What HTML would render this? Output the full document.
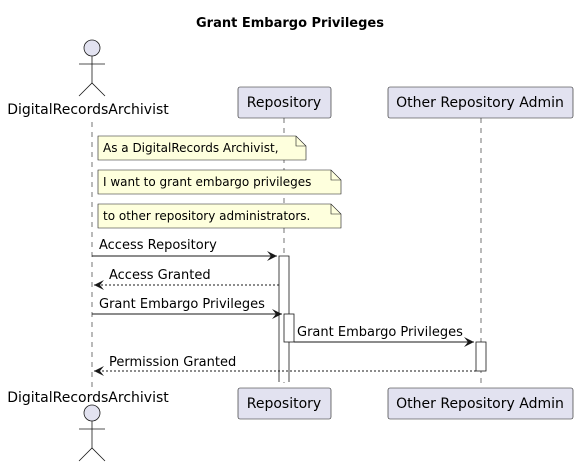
<!DOCTYPE html>
<html><head><meta charset="utf-8"><style>body{margin:0;background:#fff}svg{display:block}text{font-family:"DejaVu Sans","Liberation Sans",sans-serif}</style></head>
<body>
<svg width="580" height="469" viewBox="0 0 580 469" xmlns="http://www.w3.org/2000/svg">
<defs><marker id="a" markerWidth="12" markerHeight="10" refX="10" refY="5" orient="auto" markerUnits="userSpaceOnUse"><path d="M0,0 L10,5 L0,10 L4,5 Z" fill="#181818"/></marker></defs>
<text x="290" y="27" font-size="13" font-weight="bold" text-anchor="middle">Grant Embargo Privileges</text>
<g stroke="#181818" stroke-width="0.6" stroke-dasharray="5,5">
<line x1="92" y1="122" x2="92" y2="388"/><line x1="284" y1="118" x2="284" y2="388"/><line x1="481" y1="118" x2="481" y2="388"/></g>
<g stroke="#181818" stroke-width="0.8" fill="none"><circle cx="92" cy="48" r="8" fill="#E2E2F0"/><line x1="92" y1="56" x2="92" y2="83"/><line x1="79" y1="64" x2="105" y2="64"/><path d="M79,96 L92,83 L105,96"/></g>
<text x="88" y="114" font-size="14" text-anchor="middle">DigitalRecordsArchivist</text>
<g stroke="#181818" stroke-width="0.8" fill="none"><circle cx="92" cy="413" r="8" fill="#E2E2F0"/><line x1="92" y1="421" x2="92" y2="448"/><line x1="79" y1="429" x2="105" y2="429"/><path d="M79,461 L92,448 L105,461"/></g>
<text x="88" y="402" font-size="14" text-anchor="middle">DigitalRecordsArchivist</text>
<g fill="#E2E2F0" stroke="#181818" stroke-width="0.6">
<rect x="238" y="87" width="93" height="31" rx="2"/><rect x="388" y="87" width="185" height="31" rx="2"/>
<rect x="238" y="388" width="93" height="31" rx="2"/><rect x="388" y="388" width="185" height="31" rx="2"/></g>
<g font-size="14" text-anchor="middle"><text x="284" y="107">Repository</text><text x="480" y="107">Other Repository Admin</text><text x="284" y="408">Repository</text><text x="480" y="408">Other Repository Admin</text></g>
<g fill="#FEFFDD" stroke="#181818" stroke-width="0.6">
<path d="M98,136 H296 L306,146 V160 H98 Z"/><path d="M296,136 V146 H306" fill="none"/>
<path d="M98,170 H331 L341,180 V194 H98 Z"/><path d="M331,170 V180 H341" fill="none"/>
<path d="M98,204 H331 L341,214 V228 H98 Z"/><path d="M331,204 V214 H341" fill="none"/></g>
<g font-size="12"><text x="103" y="152">As a DigitalRecords Archivist,</text><text x="103" y="186">I want to grant embargo privileges</text><text x="103" y="220">to other repository administrators.</text></g>
<rect x="279" y="256" width="10" height="126" fill="#fff" stroke="none"/>
<path d="M279,382 V256 H289 V382" fill="none" stroke="#181818" stroke-width="0.8"/>
<g fill="#fff" stroke="#181818" stroke-width="0.8">
<rect x="284" y="314" width="10" height="28"/><rect x="476" y="342" width="10" height="29"/></g>
<g stroke="#181818" stroke-width="1" marker-end="url(#a)">
<line x1="92" y1="256" x2="277" y2="256"/>
<line x1="279" y1="285" x2="94" y2="285" stroke-dasharray="2,2"/>
<line x1="92" y1="314" x2="282" y2="314"/>
<line x1="294" y1="342" x2="474" y2="342"/>
<line x1="476" y1="371" x2="94" y2="371" stroke-dasharray="2,2"/></g>
<g font-size="13"><text x="99" y="249">Access Repository</text><text x="109" y="279">Access Granted</text><text x="99" y="308">Grant Embargo Privileges</text><text x="297" y="336">Grant Embargo Privileges</text><text x="109" y="366">Permission Granted</text></g>
</svg>
</body></html>
